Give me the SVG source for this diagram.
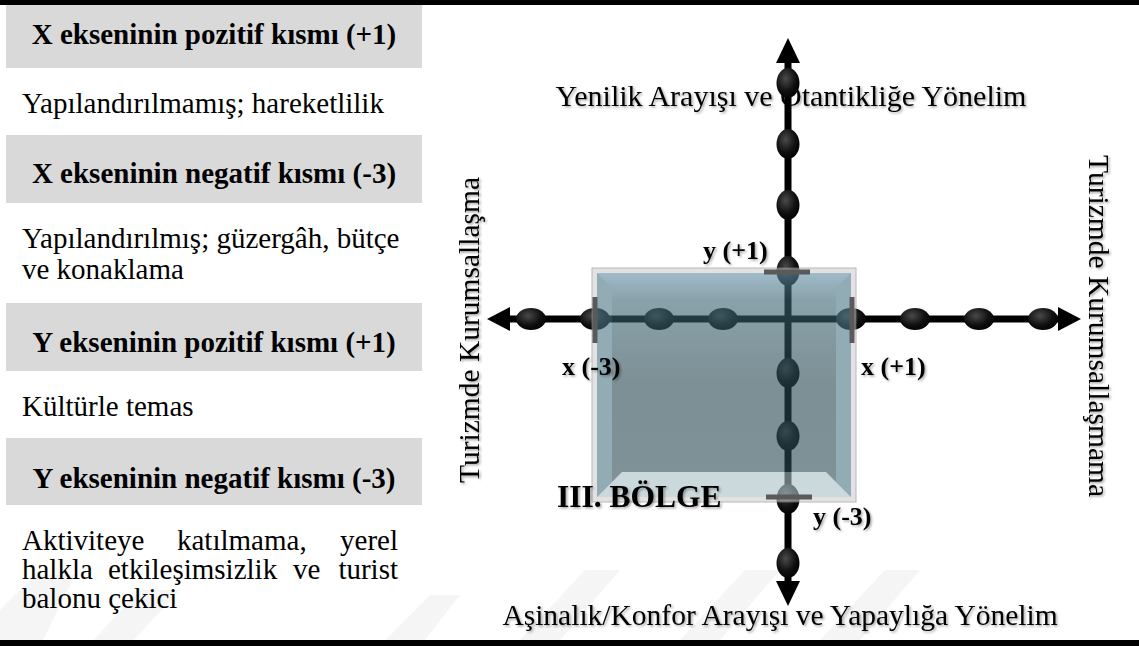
<svg xmlns="http://www.w3.org/2000/svg" width="1139" height="646" viewBox="0 0 1139 646">
<defs>
<style>
.band{fill:#d9d9d9}
.hd{font-family:"Liberation Serif","Times New Roman",serif;font-weight:bold;font-size:29px;fill:#000;text-anchor:middle}
.tx{font-family:"Liberation Serif","Times New Roman",serif;font-size:29px;fill:#000}
.lb{font-family:"Liberation Serif","Times New Roman",serif;font-size:29.5px;fill:#000}
.bl{font-family:"Liberation Serif","Times New Roman",serif;font-weight:bold;font-size:26px;fill:#000}
.big{font-family:"Liberation Serif","Times New Roman",serif;font-weight:bold;font-size:31.5px;fill:#000}
.ax{stroke:#000;stroke-width:7;fill:none}
.ov{fill:url(#ovg)}
.tick{stroke:#5a5a5a;stroke-width:5}
.wm{fill:#f5f5f5}
</style>
<radialGradient id="ovg" cx="40%" cy="35%" r="70%">
<stop offset="0" stop-color="#4a4a4a"/>
<stop offset="0.6" stop-color="#111"/>
<stop offset="1" stop-color="#000"/>
</radialGradient>
<linearGradient id="boxg" x1="0" y1="0" x2="0" y2="1">
<stop offset="0" stop-color="#5f8ea3"/>
<stop offset="0.12" stop-color="#3b6472"/>
<stop offset="0.5" stop-color="#26464e"/>
<stop offset="1" stop-color="#2a4a53"/>
</linearGradient>
<filter id="sh" x="-20%" y="-20%" width="140%" height="140%">
<feDropShadow dx="1.5" dy="1.5" stdDeviation="1" flood-color="#000" flood-opacity="0.35"/>
</filter>
<filter id="bsh" x="-20%" y="-20%" width="140%" height="140%">
<feDropShadow dx="0" dy="4" stdDeviation="8" flood-color="#000" flood-opacity="0.45"/>
</filter>
</defs>
<rect width="1139" height="646" fill="#fff"/>
<g id="watermark">
<polygon class="wm" points="0,610 35,575 75,575 40,646 0,646"/>
<polygon class="wm" points="88,646 140,590 180,590 128,646"/>
<polygon class="wm" points="380,646 430,595 460,595 420,646"/>
<polygon class="wm" points="520,640 585,570 620,570 560,640"/>
<polygon class="wm" points="680,640 745,570 780,570 720,640"/>
<polygon class="wm" points="820,640 885,570 920,570 860,640"/>
</g>
<rect x="0" y="0" width="1139" height="5" fill="#000"/>
<rect x="0" y="640" width="1139" height="6" fill="#000"/>
<g id="legend">
<g id="xpos-head"><rect class="band" x="6" y="5" width="416" height="63"/><text class="hd" x="214" y="44">X ekseninin pozitif kısmı (+1)</text></g>
<g id="xpos-text"><text class="tx" x="22" y="113">Yapılandırılmamış; hareketlilik</text></g>
<g id="xneg-head"><rect class="band" x="6" y="135" width="416" height="68"/><text class="hd" x="214" y="183">X ekseninin negatif kısmı (-3)</text></g>
<g id="xneg-text"><text class="tx" x="22" y="248">Yapılandırılmış; güzergâh, bütçe</text><text class="tx" x="22" y="279">ve konaklama</text></g>
<g id="ypos-head"><rect class="band" x="6" y="303" width="416" height="68"/><text class="hd" x="214" y="352">Y ekseninin pozitif kısmı (+1)</text></g>
<g id="ypos-text"><text class="tx" x="22" y="416">Kültürle temas</text></g>
<g id="yneg-head"><rect class="band" x="6" y="438" width="416" height="67"/><text class="hd" x="214" y="488">Y ekseninin negatif kısmı (-3)</text></g>
<g id="yneg-text">
<text class="tx" x="22" y="550">Aktiviteye</text><text class="tx" x="177" y="550">katılmama,</text><text class="tx" x="398" y="550" text-anchor="end">yerel</text>
<text class="tx" x="22" y="579">halkla</text><text class="tx" x="108" y="579">etkileşimsizlik</text><text class="tx" x="293" y="579">ve</text><text class="tx" x="398" y="579" text-anchor="end">turist</text>
<text class="tx" x="22" y="608">balonu çekici</text>
</g>
</g>
<g id="axis-labels" filter="url(#sh)">
<text id="lbl-top" class="lb" x="791" y="106" text-anchor="middle" style="font-size:30px">Yenilik Arayışı ve Otantikliğe Yönelim</text>
<text id="lbl-bottom" class="lb" x="780" y="625" text-anchor="middle">Aşinalık/Konfor Arayışı ve Yapaylığa Yönelim</text>
<text id="lbl-left" class="lb" transform="translate(479,330) rotate(-90)" text-anchor="middle">Turizmde Kurumsallaşma</text>
<text id="lbl-right" class="lb" transform="translate(1089,326) rotate(90)" text-anchor="middle">Turizmde Kurumsallaşmama</text>
</g>
<g id="connectors">
<line class="ax" x1="505" y1="319" x2="1062" y2="319"/>
<line class="ax" x1="788" y1="60" x2="788" y2="585"/>
<polygon points="487,319 510,307 510,331" fill="#000"/>
<polygon points="1081,319 1058,307 1058,331" fill="#000"/>
<polygon points="788,38 776,63 800,63" fill="#000"/>
<polygon points="788,606 776,581 800,581" fill="#000"/>
<g id="x-ovals">
<ellipse class="ov" cx="531" cy="319" rx="15" ry="11"/>
<ellipse class="ov" cx="595" cy="319" rx="15" ry="11"/>
<ellipse class="ov" cx="659" cy="319" rx="15" ry="11"/>
<ellipse class="ov" cx="723" cy="319" rx="15" ry="11"/>
<ellipse class="ov" cx="851" cy="319" rx="15" ry="11"/>
<ellipse class="ov" cx="915" cy="319" rx="15" ry="11"/>
<ellipse class="ov" cx="979" cy="319" rx="15" ry="11"/>
<ellipse class="ov" cx="1043" cy="319" rx="15" ry="11"/>
</g>
<g id="y-ovals">
<ellipse class="ov" cx="788" cy="83" rx="11.5" ry="15"/>
<ellipse class="ov" cx="788" cy="144" rx="11.5" ry="15"/>
<ellipse class="ov" cx="788" cy="205" rx="11.5" ry="15"/>
<ellipse class="ov" cx="788" cy="271" rx="11.5" ry="15"/>
<ellipse class="ov" cx="788" cy="373" rx="11.5" ry="15"/>
<ellipse class="ov" cx="788" cy="436" rx="11.5" ry="15"/>
<ellipse class="ov" cx="788" cy="499" rx="11.5" ry="15"/>
<ellipse class="ov" cx="788" cy="563" rx="11.5" ry="15"/>
</g>
</g>
<g id="region-box">
<rect x="592" y="268" width="264" height="234" fill="#fff" opacity="0.01" filter="url(#bsh)"/>
<g opacity="0.6">
<rect x="592" y="268" width="264" height="234" fill="#cfcfcf" stroke="#8a8a8a" stroke-width="1"/>
<rect x="597" y="273" width="254" height="224" fill="url(#boxg)"/>
<polygon points="597,273 612,288 612,482 597,497" fill="#4a7585"/>
<polygon points="851,273 836,288 836,482 851,497" fill="#4a7585"/>
<polygon points="597,497 622,472 826,472 851,497" fill="#a9bfc5"/>
</g>
</g>
<g id="ticks">
<line class="tick" x1="764" y1="272" x2="810" y2="272"/>
<line class="tick" x1="766" y1="497" x2="812" y2="497"/>
<line class="tick" x1="595" y1="297" x2="595" y2="343"/>
<line class="tick" x1="852" y1="297" x2="852" y2="343"/>
</g>
<g id="point-labels" filter="url(#sh)">
<text class="bl" x="703" y="259">y (+1)</text>
<text class="bl" x="562" y="375">x (-3)</text>
<text class="bl" x="861" y="375">x (+1)</text>
<text class="bl" x="813" y="525">y (-3)</text>
<text class="big" x="557" y="507">III. BÖLGE</text>
</g>
</svg>
